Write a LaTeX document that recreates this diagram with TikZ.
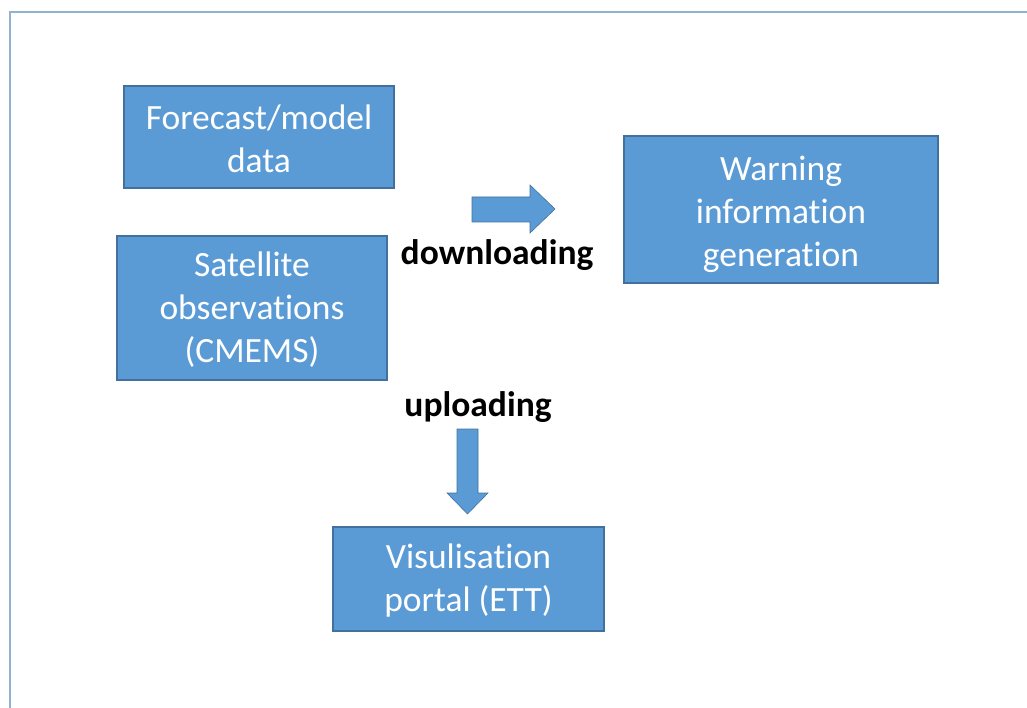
\documentclass[tikz,border=0pt]{standalone}
\usepackage{fontspec}
\setmainfont{Carlito}[Ligatures=CommonOff]
\begin{document}
\begin{tikzpicture}[x=1pt,y=-1pt,
  blockbox/.style={draw=boxedge, fill=boxfill, line width=1.4pt, inner sep=0pt},
  boxtext/.style={text=white, inner sep=0pt, align=center, font=\fontsize{35.5}{43}\selectfont},
  blockarrow/.style={fill=boxfill, draw=boxedge, line width=0.6pt},
  steplabel/.style={font=\fontsize{35.5}{43}\selectfont\bfseries, text=black, anchor=base, inner sep=0pt}]
\definecolor{boxfill}{HTML}{5B9BD5}
\definecolor{boxedge}{HTML}{41719C}
\definecolor{frameline}{HTML}{92B2D2}
\useasboundingbox (0,0) rectangle (1027,708);
% outer frame, running off the right and bottom
\draw[frameline, line width=2pt] (10,712) -- (10,12) -- (1031,12);
% boxes
\node[blockbox, minimum width=270pt, minimum height=102pt] (forecast) at (259,137) {};
\node[blockbox, minimum width=270pt, minimum height=144pt] (satellite) at (252,308) {};
\node[blockbox, minimum width=314pt, minimum height=147pt] (warning) at (781,209.5) {};
\node[blockbox, minimum width=271pt, minimum height=104pt] (portal) at (468.5,579) {};
% box captions
\node[boxtext] (forecasttext) at ([yshift=-2pt]forecast.center) {Forecast/model\\data};
\node[boxtext] (satellitetext) at ([yshift=-2pt]satellite.center) {Satellite\\observations\\(CMEMS)};
\node[boxtext] (warningtext) at ([yshift=-4.5pt]warning.center) {Warning\\information\\generation};
\node[boxtext] (portaltext) at ([yshift=-2pt]portal.center) {Visulisation\\portal (ETT)};
% block arrows
\filldraw[blockarrow] (472,197) -- (530,197) -- (530,185) -- (555,209) -- (530,233) -- (530,222) -- (472,222) -- cycle;
\filldraw[blockarrow] (457,429) -- (478,429) -- (478,493) -- (488,493) -- (467.5,514) -- (447,493) -- (457,493) -- cycle;
% labels
\node[steplabel] (down) at (497,265) {downloading};
\node[steplabel] (up) at (478,416) {uploading};
\end{tikzpicture}
\end{document}
